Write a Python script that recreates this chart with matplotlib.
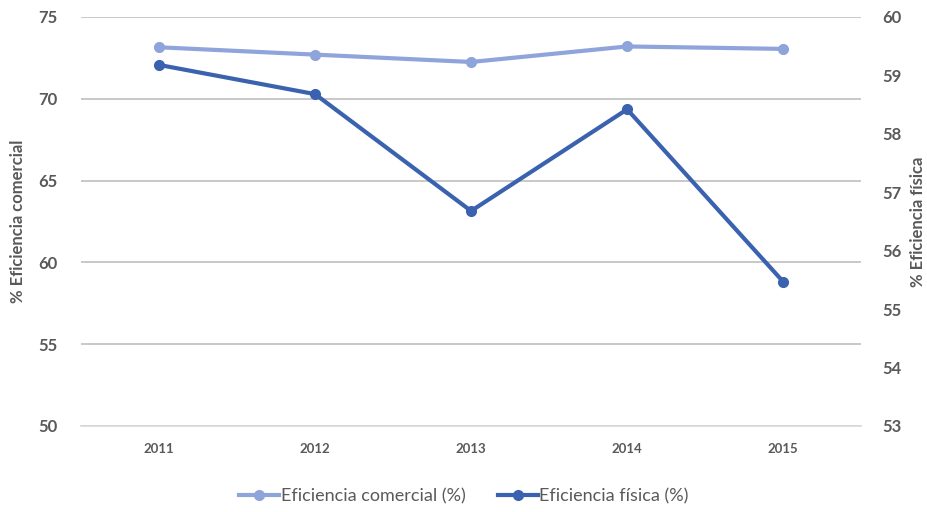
import matplotlib.pyplot as plt

years = ["2011", "2012", "2013", "2014", "2015"]
comercial = [73.15, 72.7, 72.25, 73.2, 73.05]
fisica = [59.18, 58.68, 56.68, 58.42, 55.47]

plt.rcParams['font.family'] = ['Lato', 'DejaVu Sans']

light = "#8EA4DA"
dark = "#3A62AE"
grey = "#595959"

fig = plt.figure(figsize=(9.28, 5.12), dpi=100)
ax = fig.add_axes([0.0873, 0.168, 0.8407, 0.7988])
ax2 = ax.twinx()

x = range(len(years))
l1, = ax.plot(x, comercial, color=light, lw=3, marker="o", ms=7, label="Eficiencia comercial (%)")
l2, = ax2.plot(x, fisica, color=dark, lw=3, marker="o", ms=7, label="Eficiencia física (%)")

ax.set_xlim(-0.5, 4.5)
ax.set_ylim(50, 75)
ax.set_yticks([50, 55, 60, 65, 70, 75])
ax2.set_ylim(53, 60)
ax2.set_yticks(range(53, 61))
ax.set_xticks(list(x))
ax.set_xticklabels(years)

ax.grid(axis="y", color="#BFBFBF", lw=1.2)
ax.set_axisbelow(True)
for a in (ax, ax2):
    for s in a.spines.values():
        s.set_visible(False)
    a.tick_params(length=0)
ax.spines["bottom"].set_visible(True)
ax.spines["bottom"].set_color("#D9D9D9")
ax.spines["bottom"].set_linewidth(1.2)

for lab in ax.get_yticklabels() + ax2.get_yticklabels():
    lab.set_fontsize(12)
    lab.set_fontweight("bold")
    lab.set_color(grey)
for lab in ax.get_xticklabels():
    lab.set_fontsize(9.5)
    lab.set_fontweight("bold")
    lab.set_color(grey)
ax.tick_params(axis="y", pad=17)
ax2.tick_params(axis="y", pad=15)
ax.tick_params(axis="x", pad=12)

# axis titles placed directly so they sit where the reference has them
fig.text(18 / 928, 0.567, "% Eficiencia comercial", rotation=90, ha="center", va="center",
         fontsize=12, fontweight="bold", color=grey)
fig.text(918 / 928, 0.567, "% Eficiencia física", rotation=90, ha="center", va="center",
         fontsize=12, fontweight="bold", color=grey)

fig.legend(handles=[l1, l2], loc="center", bbox_to_anchor=(0.5, 0.03), ncol=2, frameon=False,
           fontsize=13, labelcolor=grey, handlelength=2.2, columnspacing=1.8, handletextpad=0.1)

fig.savefig("out.png", dpi=100)
